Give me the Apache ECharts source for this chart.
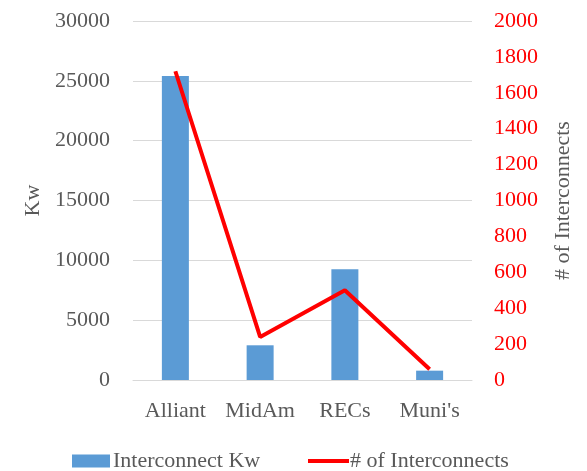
<!DOCTYPE html>
<html><head><meta charset="utf-8">
<script src="https://cdn.jsdelivr.net/npm/echarts@6/dist/echarts.min.js"></script>
<style>html,body{margin:0;padding:0;background:#fff}#c{width:587px;height:471px}</style>
</head><body><div id="c"></div>
<script>
const categories = ["Alliant", "MidAm", "RECs", "Muni's"];
const kwValues = [25400, 2900, 9250, 780];
const interconnectCounts = [1720, 240, 500, 60];
const leftTicks = {min: 0, max: 30000, interval: 5000};
const rightTicks = {min: 0, max: 2000, interval: 200};

const FONT = '"Liberation Serif", "Times New Roman", serif';
const GREY = '#595959';
const plain = v => String(v);
const chart = echarts.init(document.getElementById('c'), null, {renderer: 'canvas'});
chart.setOption({
  animation: false,
  textStyle: {fontFamily: FONT},
  grid: {left: 133, right: 115, top: 21, bottom: 91},
  legend: [
    {data: [{name: 'Interconnect Kw', icon: 'rect'}], left: 72, top: 450, padding: 0, itemWidth: 38, itemHeight: 13, itemGap: 0,
     textStyle: {fontFamily: FONT, fontSize: 22, color: GREY, padding: [0,0,0,-2]}},
    {data: [{name: '# of Interconnects', icon: 'rect'}], left: 308, top: 450, padding: 0, itemWidth: 41, itemHeight: 4, itemGap: 0,
     textStyle: {fontFamily: FONT, fontSize: 22, color: GREY, padding: [0,0,0,-4]}}
  ],
  xAxis: {
    type: 'category', data: categories,
    axisLine: {lineStyle: {color: '#d9d9d9', width: 1}},
    axisTick: {show: false},
    axisLabel: {fontFamily: FONT, fontSize: 22, color: GREY, margin: 20, interval: 0}
  },
  yAxis: [
    {type: 'value', min: leftTicks.min, max: leftTicks.max, interval: leftTicks.interval,
     name: 'Kw', nameLocation: 'middle', nameGap: 87, nameRotate: 90,
     nameTextStyle: {fontFamily: FONT, fontSize: 22, color: GREY},
     axisLabel: {fontFamily: FONT, fontSize: 22, color: GREY, margin: 23, formatter: plain},
     splitLine: {lineStyle: {color: '#d9d9d9', width: 1}}},
    {type: 'value', position: 'right', min: rightTicks.min, max: rightTicks.max, interval: rightTicks.interval,
     name: '# of Interconnects', nameLocation: 'middle', nameGap: 80, nameRotate: 90,
     nameTextStyle: {fontFamily: FONT, fontSize: 22, color: GREY},
     axisLabel: {fontFamily: FONT, fontSize: 22, color: '#ff0000', margin: 22, formatter: plain},
     splitLine: {show: false}}
  ],
  series: [
    {name: 'Interconnect Kw', type: 'bar', data: kwValues, barWidth: 27, yAxisIndex: 0,
     itemStyle: {color: '#5b9bd5'}},
    {name: '# of Interconnects', type: 'line', data: interconnectCounts, yAxisIndex: 1,
     showSymbol: false, symbol: 'none', lineStyle: {color: '#ff0000', width: 4}, itemStyle: {color: '#ff0000'}}
  ]
});
</script></body></html>
